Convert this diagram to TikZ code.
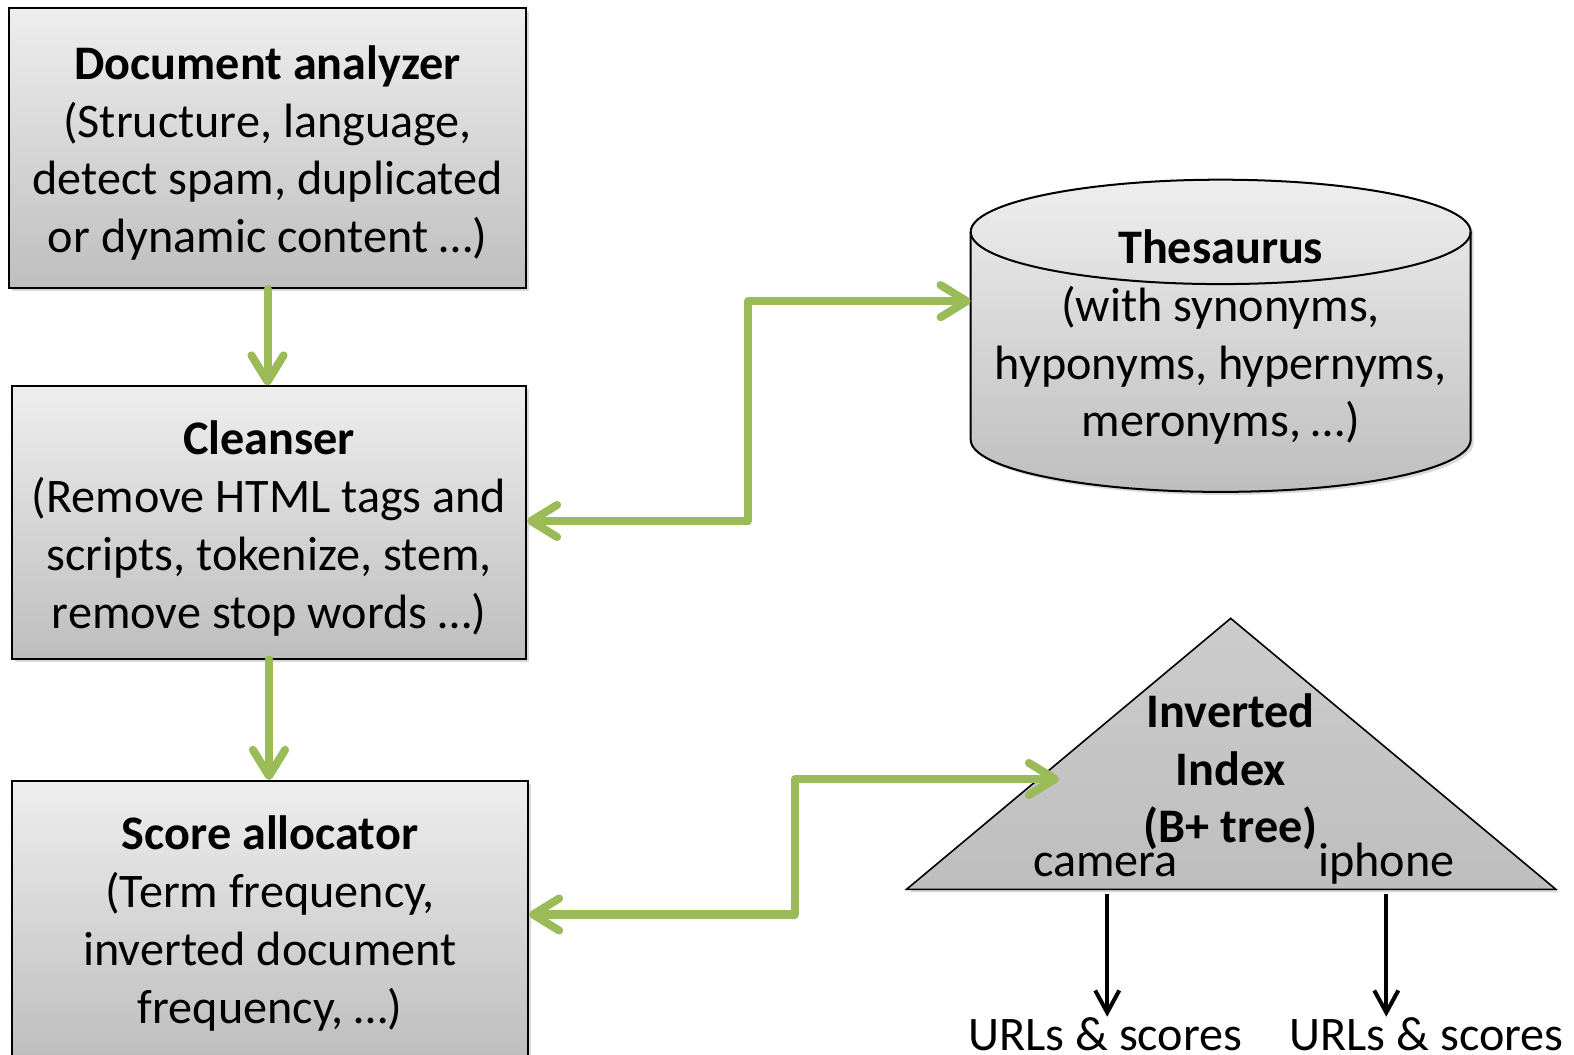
\documentclass[tikz,border=0pt]{standalone}
\usepackage{fontspec}
\setmainfont{Carlito}
\usetikzlibrary{arrows.meta,shadows,calc}

\definecolor{leaf}{RGB}{155,187,89}
\definecolor{boxtop}{RGB}{238,238,238}
\definecolor{boxbot}{RGB}{190,190,190}
\definecolor{tritop}{RGB}{204,204,204}
\definecolor{tribot}{RGB}{190,190,190}

\tikzset{
  txt/.style={font=\fontsize{24pt}{28.75pt}\selectfont, align=center, inner sep=0pt},
  softshadow/.style={drop shadow={shadow xshift=1.5pt, shadow yshift=-1.5pt, opacity=0.3}},
  procbox/.style={draw=black, line width=1pt, top color=boxtop, bottom color=boxbot, softshadow},
  flow/.style={draw=leaf, line width=4pt, line cap=round, line join=round,
    >={Straight Barb[length=13pt, width=16pt, round]},
    preaction={draw=black, draw opacity=0.12, transform canvas={shift={(1pt,-1.5pt)}}}},
  lookup/.style={draw=black, line width=2pt, >={Straight Barb[length=11pt, width=12pt]}},
}

\begin{document}
\begin{tikzpicture}[x=0.5pt, y=-0.5pt]
\useasboundingbox (0,0) rectangle (1568,1050);

% processing pipeline
\node[procbox, minimum width=257.5pt, minimum height=139.5pt] (ana) at (266.5,147.5) {};
\node[txt] (anaText) at ([yshift=-2.5pt]ana.center)
  {\textbf{Document analyzer}\\(Structure, language,\\detect spam, duplicated\\or dynamic content …)};
\node[procbox, minimum width=256pt, minimum height=135.5pt] (clean) at (268,520.5) {};
\node[txt] (cleanText) at ([yshift=-3pt]clean.center)
  {\textbf{Cleanser}\\(Remove HTML tags and\\scripts, tokenize, stem,\\remove stop words …)};
\node[procbox, minimum width=257pt, minimum height=137pt] (score) at (269,915) {};
\node[txt] (scoreText) at ([yshift=-2.5pt]score.center)
  {\textbf{Score allocator}\\(Term frequency,\\inverted document\\frequency, …)};

% thesaurus store
\path[draw=black, line width=1pt, top color=boxtop, bottom color=boxbot, softshadow]
  (967,231) -- (967,438) arc[start angle=180, end angle=0, x radius=249, y radius=52]
  -- (1465,231) arc[start angle=0, end angle=-180, x radius=249, y radius=52] -- cycle;
\draw[line width=1pt] (967,231) arc[start angle=180, end angle=0, x radius=249, y radius=52];
\node[txt] (thes) at (1216,336)
  {\textbf{Thesaurus}\\(with synonyms,\\hyponyms, hypernyms,\\meronyms, …)};
\coordinate (thesW) at (967,300);

% inverted index
\path[draw=black, line width=0.8pt, top color=tritop, bottom color=tribot, softshadow]
  (903,886) -- (1226,616) -- (1550,886) -- cycle;
\node[txt] (index) at (1226,769)
  {\textbf{Inverted}\\\textbf{Index}\\\textbf{(B+ tree)}};
\node[txt, anchor=base] (camera) at (1101,873) {camera};
\node[txt, anchor=base] (iphone) at (1381,873) {iphone};
\coordinate (indexW) at (1055,776);
\coordinate (below) at (0,891);

\node[txt, anchor=base] (urlA) at (1101,1046) {URLs \& scores};
\node[txt, anchor=base] (urlB) at (1421,1046) {URLs \& scores};

% connectors
\coordinate (jA) at (745,0);
\coordinate (jB) at (792,0);
\draw[flow, ->] (ana.south) -- (ana.south |- clean.north);
\draw[flow, ->] (clean.south) -- (clean.south |- score.north);
\draw[flow, <->] ([yshift=0.75pt]clean.east) -- ([yshift=0.75pt]clean.east -| jA) -- (jA |- thesW) -- (thesW);
\draw[flow, <->] ([yshift=2pt]score.east) -- ([yshift=2pt]score.east -| jB) -- (jB |- indexW) -- (indexW);

\draw[lookup, ->] ([xshift=1pt]camera.south |- below) -- ([xshift=1pt]urlA.north);
\draw[lookup, ->] (iphone.south |- below) -- (iphone.south |- urlB.north);
\end{tikzpicture}
\end{document}
